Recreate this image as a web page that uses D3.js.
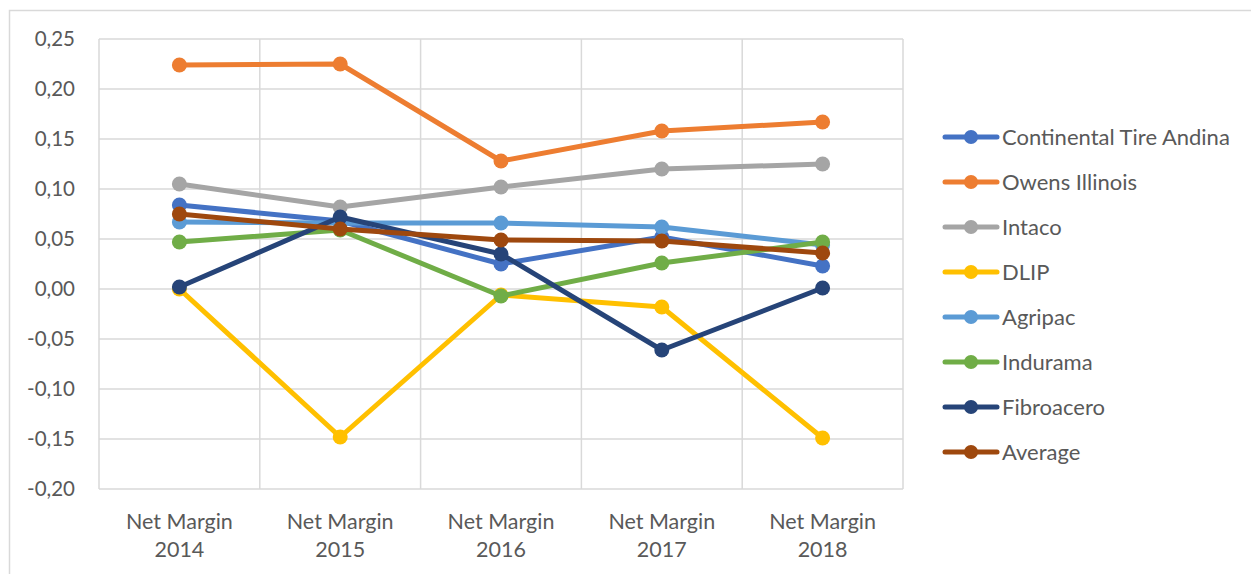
<!DOCTYPE html>
<meta charset="utf-8">
<style>
body { margin: 0; background: #fff; }
text { font-family: Lato, "Liberation Sans", sans-serif; fill: #595959; }
.grid line { stroke: #d9d9d9; stroke-width: 1.5; }
</style>
<body>
<script src="https://cdnjs.cloudflare.com/ajax/libs/d3/7.8.5/d3.min.js"></script>
<script>

// categories along the x axis
var categories = ["Net Margin 2014", "Net Margin 2015", "Net Margin 2016", "Net Margin 2017", "Net Margin 2018"];

// series names and colours (Excel office palette)
var seriesNames = ["Continental Tire Andina", "Owens Illinois", "Intaco", "DLIP", "Agripac", "Indurama", "Fibroacero", "Average"];
var seriesColours = ["#4472C4", "#ED7D31", "#A5A5A5", "#FFC000", "#5B9BD5", "#70AD47", "#264478", "#9E480E"];

// values
var continental = [0.084, 0.068, 0.025, 0.052, 0.023];
var owens       = [0.224, 0.225, 0.128, 0.158, 0.167];
var intaco      = [0.105, 0.082, 0.102, 0.120, 0.125];
var dlip        = [0.000, -0.148, -0.006, -0.018, -0.149];
var agripac     = [0.067, 0.066, 0.066, 0.062, 0.044];
var indurama    = [0.047, 0.059, -0.007, 0.026, 0.047];
var fibroacero  = [0.002, 0.072, 0.035, -0.061, 0.001];
var average     = [0.075, 0.060, 0.049, 0.048, 0.036];

var seriesValues = [continental, owens, intaco, dlip, agripac, indurama, fibroacero, average];

// y ticks
var yTicks = [-0.20, -0.15, -0.10, -0.05, 0.00, 0.05, 0.10, 0.15, 0.20, 0.25];

var width = 1251, height = 574;
var plot = {left: 99, right: 903, top: 39, bottom: 489};

var svg = d3.select("body").append("svg")
    .attr("width", width)
    .attr("height", height);

// chart frame (only top and left edges fall inside the window)
svg.append("rect")
    .attr("x", 9.5).attr("y", 10.5)
    .attr("width", 1300).attr("height", 700)
    .attr("fill", "none")
    .attr("stroke", "#d9d9d9")
    .attr("stroke-width", 1.5);

var x = d3.scaleBand()
    .domain(categories)
    .range([plot.left, plot.right]);

var y = d3.scaleLinear()
    .domain([-0.20, 0.25])
    .range([plot.bottom, plot.top]);

var grid = svg.append("g").attr("class", "grid");

// horizontal gridlines
grid.selectAll(".h")
    .data(yTicks)
    .enter().append("line")
    .attr("x1", plot.left).attr("x2", plot.right)
    .attr("y1", function(d) { return y(d); })
    .attr("y2", function(d) { return y(d); });

// vertical gridlines at category boundaries
var bounds = categories.map(function(c) { return x(c); }).concat([plot.right]);
grid.selectAll(".v")
    .data(bounds)
    .enter().append("line")
    .attr("x1", function(d) { return d; }).attr("x2", function(d) { return d; })
    .attr("y1", plot.top).attr("y2", plot.bottom);

// y axis labels
var yAxis = d3.axisLeft(y)
    .tickValues(yTicks)
    .tickSize(0)
    .tickPadding(24)
    .tickFormat(function(d) { return d3.format(".2f")(d).replace(".", ",").replace("−", "-"); });

var yg = svg.append("g")
    .attr("transform", "translate(" + plot.left + ",0)")
    .call(yAxis);
yg.select(".domain").remove();
yg.selectAll("text")
    .style("font-size", "20.5px")
    .style("fill", "#595959")
    .style("font-family", "Lato, 'Liberation Sans', sans-serif");

// x axis labels, two lines
var xg = svg.append("g");
categories.forEach(function(c) {
  var parts = c.split(" ");
  var t = xg.append("text")
      .attr("x", x(c) + x.bandwidth() / 2)
      .attr("text-anchor", "middle")
      .style("font-size", "21.5px");
  t.append("tspan").attr("x", x(c) + x.bandwidth() / 2).attr("y", 529).text(parts[0] + " " + parts[1]);
  t.append("tspan").attr("x", x(c) + x.bandwidth() / 2).attr("y", 557).text(parts[2]);
});

// lines and markers
var line = d3.line()
    .x(function(d, i) { return x(categories[i]) + x.bandwidth() / 2; })
    .y(function(d) { return y(d); });

seriesValues.forEach(function(vals, s) {
  var g = svg.append("g");
  g.append("path")
      .attr("d", line(vals))
      .attr("fill", "none")
      .attr("stroke", seriesColours[s])
      .attr("stroke-width", 5)
      .attr("stroke-linejoin", "round")
      .attr("stroke-linecap", "round");
  g.selectAll("circle")
      .data(vals)
      .enter().append("circle")
      .attr("cx", function(d, i) { return x(categories[i]) + x.bandwidth() / 2; })
      .attr("cy", function(d) { return y(d); })
      .attr("r", 7.5)
      .attr("fill", seriesColours[s]);
});

// legend
var legend = svg.selectAll(".legend")
    .data(seriesNames)
    .enter().append("g")
    .attr("class", "legend")
    .attr("transform", function(d, i) { return "translate(943," + (137 + i * 45) + ")"; });

legend.append("line")
    .attr("x1", 2).attr("x2", 54)
    .attr("stroke", function(d, i) { return seriesColours[i]; })
    .attr("stroke-width", 5)
    .attr("stroke-linecap", "round");

legend.append("circle")
    .attr("cx", 28)
    .attr("r", 7)
    .attr("fill", function(d, i) { return seriesColours[i]; });

legend.append("text")
    .attr("x", 59)
    .attr("y", 7.5)
    .style("font-size", "22px")
    .text(function(d) { return d; });

</script>
</body>
